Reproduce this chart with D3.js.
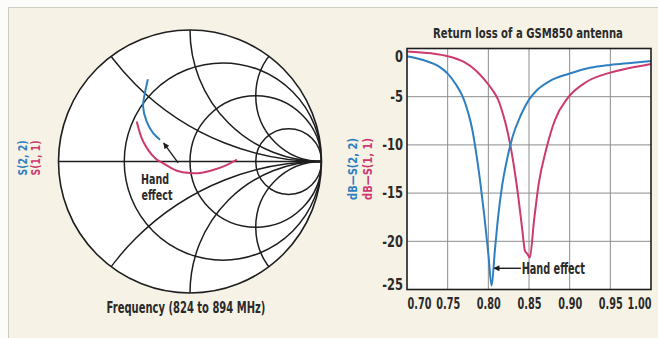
<!DOCTYPE html>
<html>
<head>
<meta charset="utf-8">
<script src="https://cdn.jsdelivr.net/npm/d3@7"></script>
<style>
  html, body { margin: 0; padding: 0; background: #fcfcfa; }
  svg { display: block; }
  text { font-family: "DejaVu Sans Condensed", "Liberation Sans Narrow", sans-serif; font-weight: bold; fill: #2a2a2a; }
</style>
</head>
<body>
<svg id="chart" width="658" height="338"></svg>
<script>
// ---- Smith chart grid ----
const smithResistances = [1 / 3, 1, 3];
const smithReactances = [0.5, 1, 2, -0.5, -1, -2];

// Reflection-coefficient traces (real, imaginary), 824 to 894 MHz
const s22Gamma = [[-0.32, 0.625], [-0.345, 0.51], [-0.357, 0.42], [-0.33, 0.305], [-0.28, 0.215], [-0.228, 0.165]];
const s11Gamma = [[-0.405, 0.305], [-0.355, 0.15], [-0.265, 0.025], [-0.205, -0.013], [-0.1, -0.07], [0.0, -0.088], [0.09, -0.085], [0.175, -0.065], [0.26, -0.035], [0.357, 0.015]];
const handArrowGamma = [[-0.09, -0.01], [-0.2, 0.14]];

// ---- Return loss curves ----
const freqS22 = [0.70, 0.72, 0.74, 0.75, 0.76, 0.77, 0.775, 0.78, 0.785, 0.79, 0.795, 0.80, 0.804, 0.808, 0.812, 0.817, 0.823, 0.83, 0.84, 0.85, 0.86, 0.875, 0.90, 0.925, 0.95, 0.975, 1.00];
const dbS22 = [-0.8, -1.2, -1.9, -2.6, -3.7, -5.3, -6.6, -8.3, -10.8, -13.8, -17.3, -21.3, -24.6, -21.0, -17.5, -14.2, -11.5, -9.1, -6.9, -5.3, -4.3, -3.4, -2.6, -2.0, -1.7, -1.5, -1.3];
const freqS11 = [0.70, 0.73, 0.75, 0.77, 0.785, 0.795, 0.805, 0.812, 0.818, 0.823, 0.827, 0.832, 0.837, 0.842, 0.845, 0.848, 0.851, 0.856, 0.862, 0.871, 0.882, 0.897, 0.92, 0.95, 0.975, 1.00];
const dbS11 = [-0.3, -0.5, -0.8, -1.4, -2.3, -3.2, -4.3, -5.3, -6.8, -8.4, -10.0, -12.5, -15.5, -19.0, -21.0, -21.3, -21.7, -18.0, -14.0, -10.5, -7.4, -5.2, -3.5, -2.5, -2.0, -1.6];

const xTicks = [0.70, 0.75, 0.80, 0.85, 0.90, 0.95, 1.00];
const yTicks = [0, -5, -10, -15, -20, -25];

const BLUE = "#2f7fc0";
const PINK = "#cc3a70";
const INK = "#1e1e1e";

const svg = d3.select("#chart");

// condensed label: placed at (x, y), optional rotation, squeezed horizontally by k
function label(parent, x, y, txt, opts) {
  const o = Object.assign({ size: 15, k: 0.75, rot: 0, anchor: "start", color: null }, opts || {});
  const t = parent.append("text")
    .attr("transform", `translate(${x},${y})` + (o.rot ? ` rotate(${o.rot})` : "") + ` scale(${o.k},1)`)
    .attr("text-anchor", o.anchor).attr("font-size", o.size).text(txt);
  if (o.color) t.style("fill", o.color);
  return t;
}

// panel
svg.append("rect").attr("x", 8.5).attr("y", 7.5).attr("width", 700).attr("height", 400)
  .attr("fill", "#f6f3e6").attr("stroke", "#cfccc2").attr("stroke-width", 1);

// ================= Smith chart =================
const cx = 190, cy = 161.5, R = 131.5;
const gx = d3.scaleLinear().domain([-1, 1]).range([cx - R, cx + R]);
const gy = d3.scaleLinear().domain([-1, 1]).range([cy + R, cy - R]);
const gr = d3.scaleLinear().domain([0, 1]).range([0, R]);

const smith = svg.append("g");
smith.append("defs").append("clipPath").attr("id", "unit")
  .append("circle").attr("cx", gx(0)).attr("cy", gy(0)).attr("r", gr(1));

smith.append("circle").attr("cx", gx(0)).attr("cy", gy(0)).attr("r", gr(1)).attr("fill", "#fff");

const grid = smith.append("g").attr("clip-path", "url(#unit)")
  .attr("fill", "none").attr("stroke", INK).attr("stroke-width", 1.5);

grid.selectAll("circle.res").data(smithResistances).join("circle").attr("class", "res")
  .attr("cx", r => gx(r / (1 + r))).attr("cy", gy(0)).attr("r", r => gr(1 / (1 + r)));

grid.selectAll("circle.reac").data(smithReactances).join("circle").attr("class", "reac")
  .attr("cx", gx(1)).attr("cy", x => gy(1 / x)).attr("r", x => gr(1 / Math.abs(x)));

grid.append("line").attr("x1", gx(-1)).attr("x2", gx(1)).attr("y1", gy(0)).attr("y2", gy(0));

smith.append("circle").attr("cx", gx(0)).attr("cy", gy(0)).attr("r", gr(1))
  .attr("fill", "none").attr("stroke", INK).attr("stroke-width", 1.6);

const gLine = d3.line().x(d => gx(d[0])).y(d => gy(d[1])).curve(d3.curveCatmullRom);
smith.append("path").datum(s11Gamma).attr("d", gLine).attr("fill", "none").attr("stroke", PINK).attr("stroke-width", 2);
smith.append("path").datum(s22Gamma).attr("d", gLine).attr("fill", "none").attr("stroke", BLUE).attr("stroke-width", 2);

const defs = svg.append("defs");
defs.append("marker").attr("id", "head").attr("viewBox", "0 0 10 10").attr("refX", 9).attr("refY", 5)
  .attr("markerWidth", 8).attr("markerHeight", 6).attr("markerUnits", "userSpaceOnUse").attr("orient", "auto")
  .append("path").attr("d", "M0,0 L10,5 L0,10 Z").attr("fill", INK);

smith.append("line")
  .attr("x1", gx(handArrowGamma[0][0])).attr("y1", gy(handArrowGamma[0][1]))
  .attr("x2", gx(handArrowGamma[1][0])).attr("y2", gy(handArrowGamma[1][1]))
  .attr("stroke", INK).attr("stroke-width", 1.4).attr("marker-end", "url(#head)");

label(smith, 155, 184, "Hand", { size: 14, k: 0.76, anchor: "middle" });
label(smith, 157, 200, "effect", { size: 14, k: 0.76, anchor: "middle" });
label(smith, 186, 313, "Frequency (824 to 894 MHz)", { size: 15, k: 0.74, anchor: "middle" });

label(smith, 27, 158, "S(2, 2)", { size: 13, k: 0.8, rot: -90, anchor: "middle", color: BLUE });
label(smith, 40, 158, "S(1, 1)", { size: 13, k: 0.8, rot: -90, anchor: "middle", color: PINK });

// ================= Return loss plot =================
const px0 = 407, px1 = 651, py0 = 48.5, py1 = 289.5;
const x = d3.scaleLinear().domain([0.70, 1.00]).range([px0, px1]);
const y = d3.scaleLinear().domain([0, -25]).range([py0, py1]);

const plot = svg.append("g");
plot.append("rect").attr("x", px0).attr("y", py0).attr("width", px1 - px0).attr("height", py1 - py0).attr("fill", "#fff");

plot.append("g").selectAll("line").data(xTicks.slice(1, -1)).join("line")
  .attr("x1", d => x(d)).attr("x2", d => x(d)).attr("y1", py0).attr("y2", py1)
  .attr("stroke", "#8c8c8c").attr("stroke-width", 1);
plot.append("g").selectAll("line").data(yTicks.slice(1, -1)).join("line")
  .attr("y1", d => y(d)).attr("y2", d => y(d)).attr("x1", px0).attr("x2", px1)
  .attr("stroke", "#8c8c8c").attr("stroke-width", 1);

const line = d3.line().x(d => x(d[0])).y(d => y(d[1])).curve(d3.curveMonotoneX);
plot.append("path").datum(d3.zip(freqS11, dbS11)).attr("d", line).attr("fill", "none").attr("stroke", PINK).attr("stroke-width", 2);
plot.append("path").datum(d3.zip(freqS22, dbS22)).attr("d", line).attr("fill", "none").attr("stroke", BLUE).attr("stroke-width", 2);

plot.append("rect").attr("x", px0).attr("y", py0).attr("width", px1 - px0).attr("height", py1 - py0)
  .attr("fill", "none").attr("stroke", INK).attr("stroke-width", 1.6);

// axes
const kx = 0.72, ky = 0.85;
const xAxis = plot.append("g").attr("transform", `translate(0,${py1})`)
  .call(d3.axisBottom(x).tickValues(xTicks).tickFormat(d3.format(".2f")).tickSize(0).tickPadding(9));
xAxis.select(".domain").remove();
xAxis.selectAll("text").attr("font-size", 15).attr("font-family", null).style("fill", "#2a2a2a")
  .attr("transform", `scale(${kx},1)`);
xAxis.selectAll(".tick").filter(d => d === xTicks[0]).select("text").attr("text-anchor", "start");
xAxis.selectAll(".tick").filter(d => d === xTicks[xTicks.length - 1]).select("text").attr("text-anchor", "end");

const yAxis = plot.append("g").attr("transform", `translate(${px0},0)`)
  .call(d3.axisLeft(y).tickValues(yTicks).tickFormat(d => String(d)).tickSize(0).tickPadding(4));
yAxis.select(".domain").remove();
yAxis.selectAll("text").attr("font-size", 15).attr("font-family", null).style("fill", "#2a2a2a")
  .attr("x", -4 / ky).attr("transform", `scale(${ky},1)`);
yAxis.selectAll(".tick").filter(d => d === yTicks[0]).select("text").attr("dy", "0.85em");
yAxis.selectAll(".tick").filter(d => d === yTicks[yTicks.length - 1]).select("text").attr("dy", "0");

label(plot, 528, 38, "Return loss of a GSM850 antenna", { size: 14, k: 0.8, anchor: "middle" });

label(plot, 357, (py0 + py1) / 2, "dB\u2014S(2, 2)", { size: 13, k: 0.85, rot: -90, anchor: "middle", color: BLUE });
label(plot, 372, (py0 + py1) / 2, "dB\u2014S(1, 1)", { size: 13, k: 0.85, rot: -90, anchor: "middle", color: PINK });

// hand effect annotation at the S(2,2) minimum
plot.append("line").attr("x1", x(0.84)).attr("y1", y(-22.8)).attr("x2", x(0.807)).attr("y2", y(-22.8))
  .attr("stroke", INK).attr("stroke-width", 1.4).attr("marker-end", "url(#head)");
label(plot, x(0.841), y(-22.8) + 5.5, "Hand effect", { size: 15, k: 0.72 });
</script>
</body>
</html>
